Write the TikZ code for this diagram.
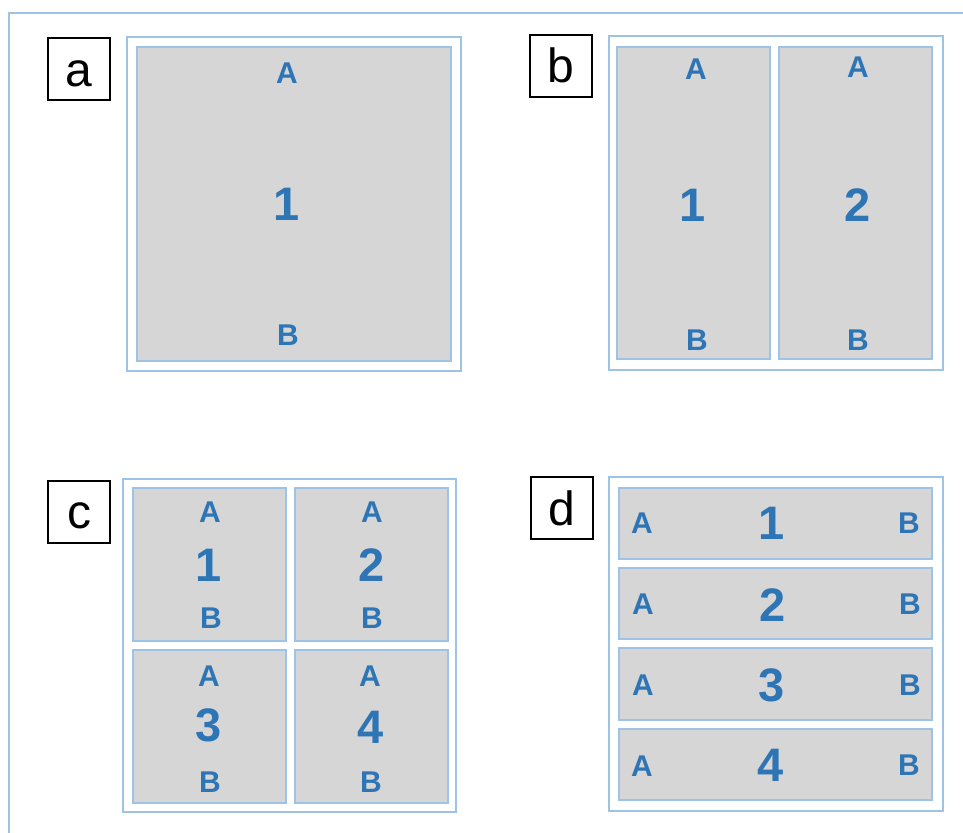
\documentclass[tikz,border=0pt]{standalone}
\usepackage{fontspec}
\setmainfont{Liberation Sans}
\definecolor{frameblue}{HTML}{9DC3E6}
\definecolor{textblue}{HTML}{2E75B6}
\definecolor{cellgray}{HTML}{D6D6D6}
\tikzset{
  frame/.style={draw=frameblue, line width=2pt, fill=white, inner sep=0pt, outer sep=0pt},
  cell/.style={draw=frameblue, line width=2pt, fill=cellgray, inner sep=0pt, outer sep=0pt},
  labbox/.style={draw=black, line width=2pt, fill=white, inner sep=0pt, minimum width=62pt, minimum height=62pt},
  labtxt/.style={anchor=base, inner sep=0pt, font=\fontsize{48}{48}\selectfont},
  lt/.style={text=textblue, inner sep=0pt, font=\fontsize{30}{30}\selectfont\bfseries},
  num/.style={text=textblue, inner sep=0pt, font=\fontsize{47}{47}\selectfont\bfseries}
}
\begin{document}
\begin{tikzpicture}[x=1pt,y=-1pt]
\useasboundingbox (0,0) rectangle (963,832);
% outer page frame
\coordinate (ftl) at (9,13);
\coordinate (ftr) at (964,13);
\coordinate (fbl) at (9,833);
\draw[frameblue, line width=2pt] (fbl) -- (ftl) -- (ftr);

% ---------- panel a ----------
\node[labbox] (la) at (79,69.5) {};
\node[labtxt] (lat) at (79,87) {a};
\node[frame, minimum width=334pt, minimum height=334pt] (fa) at (294,204) {};
\node[cell, minimum width=314pt, minimum height=314pt] (a1) at (294,204) {};
\node[lt] (a1A) at (287,73) {A};
\node[num] (a1n) at (287,204) {1};
\node[lt] (a1B) at (288,335) {B};

% ---------- panel b ----------
\node[labbox] (lb) at (561,66.5) {};
\node[labtxt] (lbt) at (561,83) {b};
\node[frame, minimum width=334pt, minimum height=334pt] (fb) at (776,203) {};
\node[cell, minimum width=153pt, minimum height=312pt] (b1) at (693.5,203) {};
\node[cell, minimum width=153pt, minimum height=312pt] (b2) at (855.5,203) {};
\node[lt] (b1A) at (696,69) {A};
\node[num] (b1n) at (693,205) {1};
\node[lt] (b1B) at (697,340) {B};
\node[lt] (b2A) at (858,67) {A};
\node[num] (b2n) at (858,205) {2};
\node[lt] (b2B) at (858,340) {B};

% ---------- panel c ----------
\node[labbox] (lc) at (79,511.5) {};
\node[labtxt] (lct) at (79,528) {c};
\node[frame, minimum width=333pt, minimum height=333pt] (fc) at (289.5,645.5) {};
\node[cell, minimum width=153pt, minimum height=153pt] (c1) at (209.5,564.5) {};
\node[cell, minimum width=153pt, minimum height=153pt] (c2) at (371,564.5) {};
\node[cell, minimum width=153pt, minimum height=153pt] (c3) at (209.5,726) {};
\node[cell, minimum width=153pt, minimum height=153pt] (c4) at (371,726) {};
\node[lt] (c1A) at (210,512) {A};
\node[num] (c1n) at (209,565) {1};
\node[lt] (c1B) at (211,618) {B};
\node[lt] (c2A) at (372,512) {A};
\node[num] (c2n) at (372,565) {2};
\node[lt] (c2B) at (372,618) {B};
\node[lt] (c3A) at (209,676) {A};
\node[num] (c3n) at (209,725) {3};
\node[lt] (c3B) at (210,782) {B};
\node[lt] (c4A) at (370,676) {A};
\node[num] (c4n) at (371,727) {4};
\node[lt] (c4B) at (371,782) {B};

% ---------- panel d ----------
\node[labbox] (ld) at (561.5,507.5) {};
\node[labtxt] (ldt) at (561.5,525) {d};
\node[frame, minimum width=334pt, minimum height=334pt] (fd) at (776,644) {};
\node[cell, minimum width=313pt, minimum height=71pt] (d1) at (775.5,523.5) {};
\node[cell, minimum width=313pt, minimum height=71pt] (d2) at (775.5,603.5) {};
\node[cell, minimum width=313pt, minimum height=72pt] (d3) at (775.5,684) {};
\node[cell, minimum width=313pt, minimum height=71pt] (d4) at (775.5,764.5) {};
\node[lt] (d1A) at (642,523) {A};
\node[num] (d1n) at (772,523) {1};
\node[lt] (d1B) at (909,523) {B};
\node[lt] (d2A) at (643,604) {A};
\node[num] (d2n) at (772.5,605) {2};
\node[lt] (d2B) at (910,604) {B};
\node[lt] (d3A) at (643,685) {A};
\node[num] (d3n) at (772,685) {3};
\node[lt] (d3B) at (910,685) {B};
\node[lt] (d4A) at (642,766) {A};
\node[num] (d4n) at (771,765) {4};
\node[lt] (d4B) at (909,765) {B};
\end{tikzpicture}
\end{document}
